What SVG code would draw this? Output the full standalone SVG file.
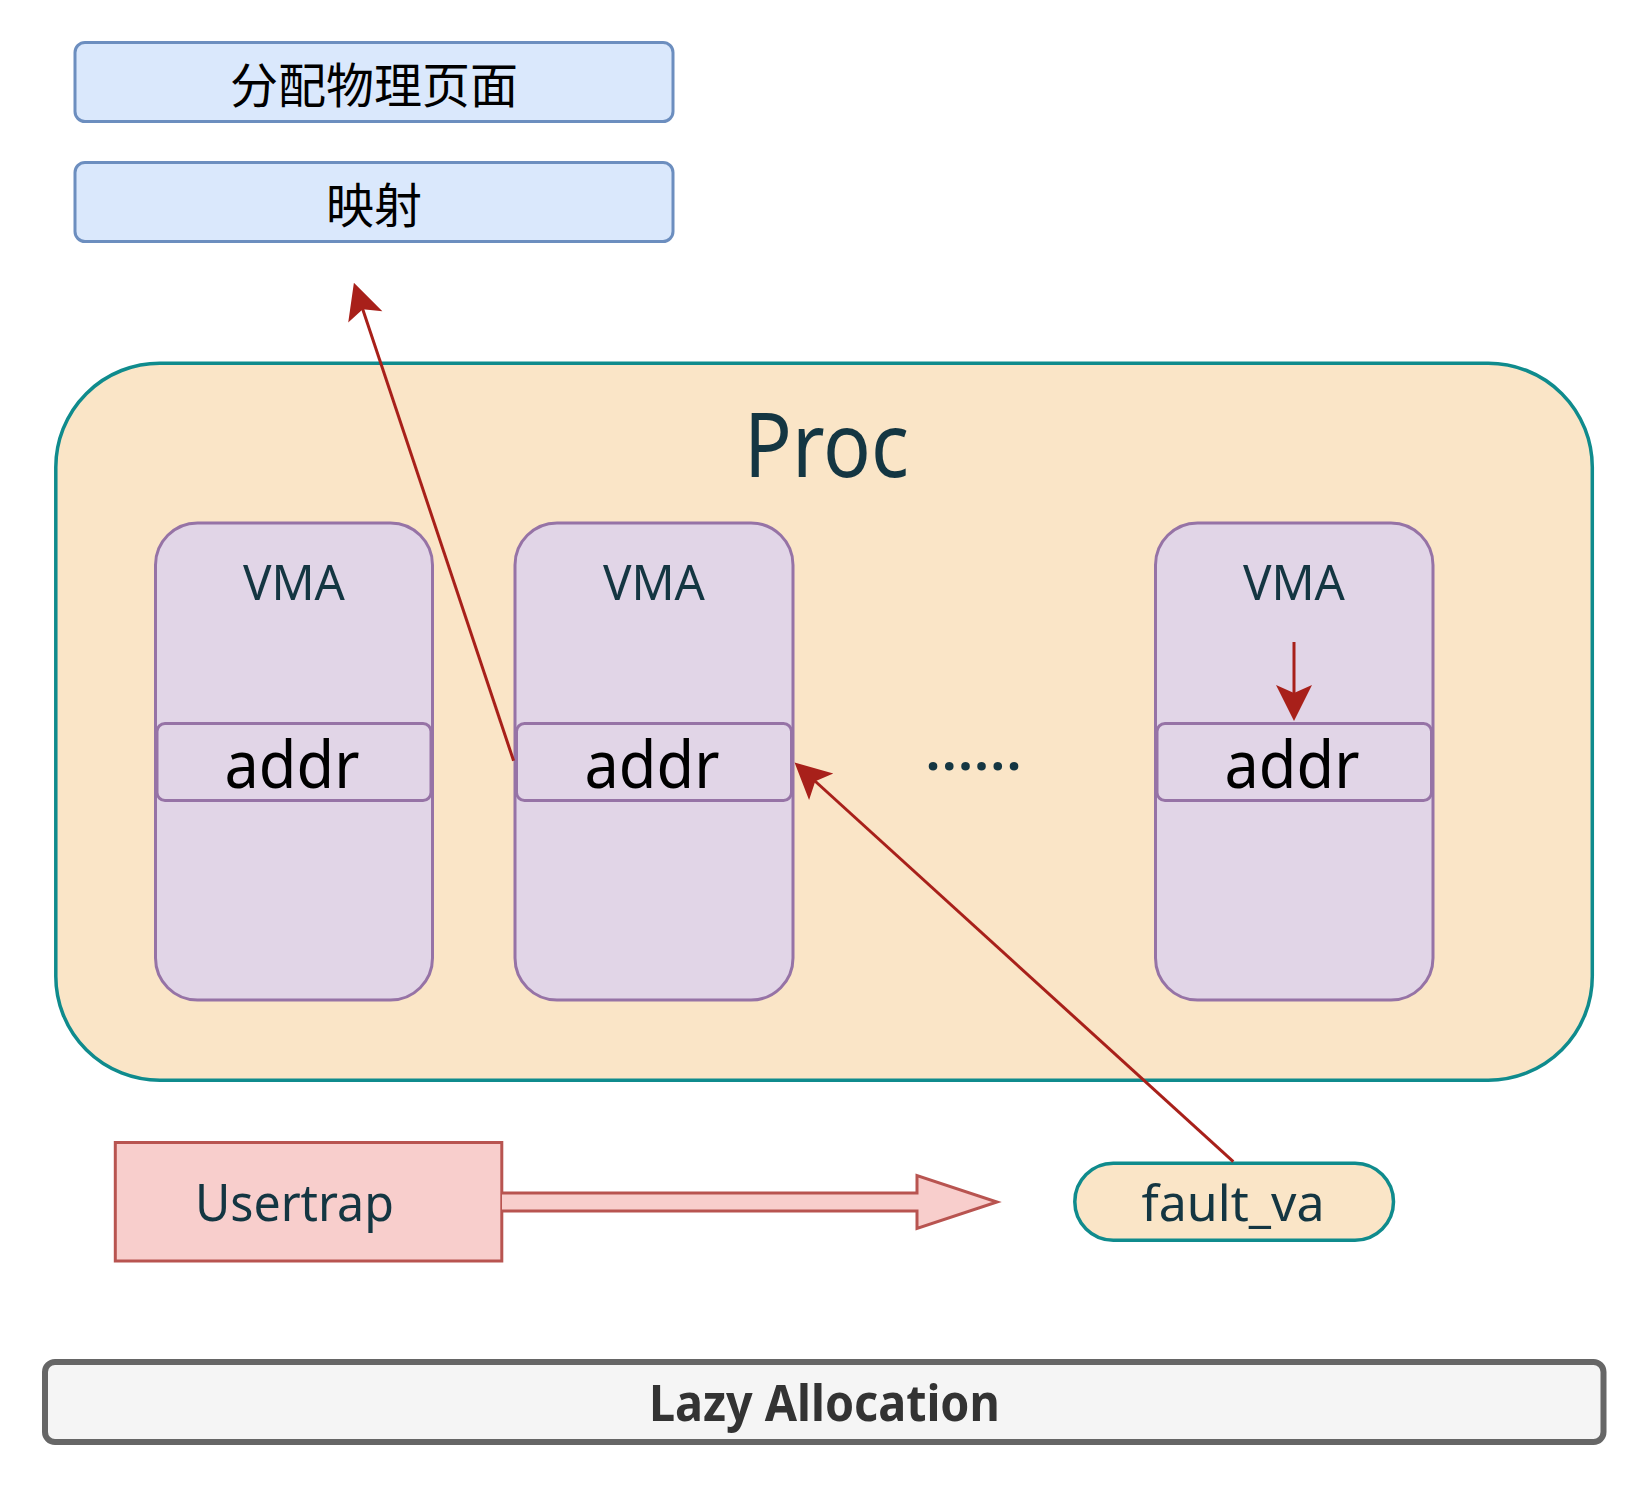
<svg xmlns="http://www.w3.org/2000/svg" width="1648" height="1488" viewBox="0 0 1648 1488">
<style>
.t{font-family:"Noto Sans","DejaVu Sans",sans-serif;text-anchor:middle;fill:#143642}
.cjk{font-family:"Noto Sans CJK SC","Noto Sans",sans-serif;font-size:48px;text-anchor:middle;fill:#000}
.blue{fill:#dae8fc;stroke:#6c8ebf;stroke-width:3}
.vma{fill:#e1d5e7;stroke:#9673a6;stroke-width:3}
.edge{fill:none;stroke:#a8201a;stroke-width:3}
</style>
<defs>
<marker id="ah" markerUnits="userSpaceOnUse" markerWidth="50" markerHeight="50" refX="0" refY="0" orient="auto" overflow="visible">
<path d="M6,0 L-30,-18 L-22,0 L-30,18 Z" fill="#a8201a" stroke="none"/>
</marker>
</defs>
<rect width="1648" height="1488" fill="#fff"/>
<g id="alloc">
<rect class="blue" x="75" y="42.5" width="598" height="79" rx="10"/>
<text class="cjk" x="374" y="102.6">分配物理页面</text>
</g>
<g id="map">
<rect class="blue" x="75" y="162.5" width="598" height="79" rx="10"/>
<text class="cjk" x="374" y="222.6">映射</text>
</g>
<g id="proc">
<rect x="55.8" y="363.2" width="1536.5" height="717" rx="104" fill="#fae5c7" stroke="#0f8b8d" stroke-width="3.5"/>
<text class="t" x="826.5" y="476.7" font-size="90" textLength="165" lengthAdjust="spacingAndGlyphs">Proc</text>
</g>
<g id="vma1">
<rect class="vma" x="155.5" y="523" width="277" height="477" rx="42"/>
<text class="t" x="294" y="600" font-size="50" textLength="102" lengthAdjust="spacingAndGlyphs">VMA</text>
</g>
<g id="addr1">
<rect class="vma" x="157" y="723.5" width="274" height="77" rx="8"/>
<text class="t" x="292" y="787.5" font-size="66" style="fill:#000" textLength="135" lengthAdjust="spacingAndGlyphs">addr</text>
</g>
<g id="vma2">
<rect class="vma" x="515" y="523" width="278" height="477" rx="42"/>
<text class="t" x="654" y="600" font-size="50" textLength="102" lengthAdjust="spacingAndGlyphs">VMA</text>
</g>
<g id="addr2">
<rect class="vma" x="516.5" y="723.5" width="275" height="77" rx="8"/>
<text class="t" x="652" y="787.5" font-size="66" style="fill:#000" textLength="135" lengthAdjust="spacingAndGlyphs">addr</text>
</g>
<g id="dots">
<text class="t" x="926" y="770" font-size="50" font-weight="bold" style="text-anchor:start" textLength="95" lengthAdjust="spacing">......</text>
</g>
<g id="vma3">
<rect class="vma" x="1155.5" y="523" width="277.5" height="477" rx="42"/>
<text class="t" x="1294" y="600" font-size="50" textLength="102" lengthAdjust="spacingAndGlyphs">VMA</text>
</g>
<g id="addr3">
<rect class="vma" x="1157" y="723.5" width="274.5" height="77" rx="8"/>
<text class="t" x="1292" y="787.5" font-size="66" style="fill:#000" textLength="135" lengthAdjust="spacingAndGlyphs">addr</text>
</g>
<g id="usertrap">
<rect x="115.3" y="1142.5" width="386.5" height="118.5" fill="#f8cecc" stroke="#b85450" stroke-width="3"/>
<text class="t" x="294.4" y="1220.7" font-size="51" textLength="199" lengthAdjust="spacingAndGlyphs">Usertrap</text>
</g>
<g id="faultva">
<rect x="1074.8" y="1163.2" width="318.7" height="77" rx="38.5" fill="#fae5c7" stroke="#0f8b8d" stroke-width="3.5"/>
<text class="t" x="1233" y="1220.7" font-size="50" textLength="183" lengthAdjust="spacingAndGlyphs">fault_va</text>
</g>
<g id="lazy">
<rect x="45" y="1362" width="1558.5" height="80" rx="10" fill="#f5f5f5" stroke="#666666" stroke-width="6"/>
<text class="t" x="824.4" y="1420.7" font-size="50" font-weight="bold" style="fill:#333333" textLength="351" lengthAdjust="spacingAndGlyphs">Lazy Allocation</text>
</g>
<g id="connectors">
<path d="M502,1193 L917,1193 L917,1175.5 L997,1202 L917,1228.5 L917,1211 L502,1211" fill="#f8cecc" stroke="#b85450" stroke-width="3" stroke-linejoin="miter"/>
<line class="edge" x1="513.6" y1="760.7" x2="355.8" y2="288.4" marker-end="url(#ah)"/>
<line class="edge" x1="1233.3" y1="1161.7" x2="799" y2="766.5" marker-end="url(#ah)"/>
<line class="edge" x1="1294" y1="642" x2="1294" y2="715" marker-end="url(#ah)"/>
</g>
</svg>
